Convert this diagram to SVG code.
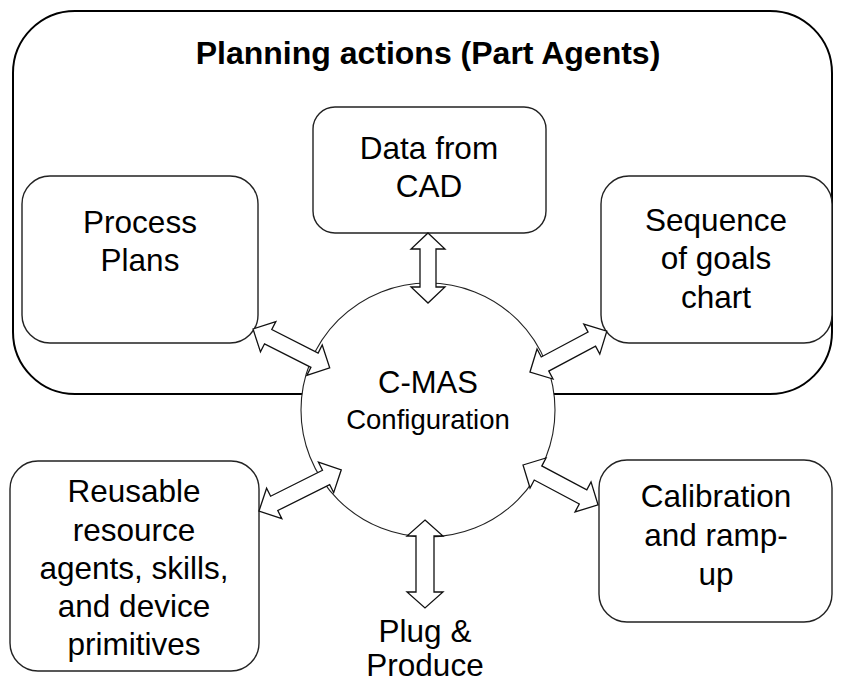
<svg xmlns="http://www.w3.org/2000/svg" width="843" height="682" viewBox="0 0 843 682">
  <style>
    .frame { fill: #fff; stroke: #000; stroke-width: 2; }
    .box { fill: #fff; stroke: #222; stroke-width: 1.4; }
    .hub { fill: #fff; stroke: #222; stroke-width: 1.1; }
    .arrow { fill: #fff; stroke: #111; stroke-width: 1.3; stroke-linejoin: miter; }
    .title { font-family: "Liberation Sans", Arial, sans-serif; font-weight: bold; font-size: 32px; fill: #000; text-anchor: middle; }
    .label { font-family: "Liberation Sans", Arial, sans-serif; font-size: 31.5px; fill: #000; text-anchor: middle; }
  </style>

  <!-- outer planning frame -->
  <g id="planning-frame">
    <rect class="frame" x="13" y="11" width="819" height="383" rx="62" ry="62"/>
    <text class="title" x="428" y="64">Planning actions (Part Agents)</text>
  </g>

  <g id="node-cad">
    <rect class="box" x="313" y="107" width="233" height="126" rx="22" ry="22"/>
    <text class="label" x="429" y="159">Data from</text>
    <text class="label" x="429" y="197">CAD</text>
  </g>

  <g id="node-process-plans">
    <rect class="box" x="22" y="176" width="236" height="167" rx="28" ry="28"/>
    <text class="label" x="140" y="233">Process</text>
    <text class="label" x="140" y="271">Plans</text>
  </g>

  <g id="node-sequence">
    <rect class="box" x="601" y="176" width="231" height="167" rx="28" ry="28"/>
    <text class="label" x="716" y="231">Sequence</text>
    <text class="label" x="716" y="269">of goals</text>
    <text class="label" x="716" y="308">chart</text>
  </g>

  <g id="node-resources">
    <rect class="box" x="10" y="461" width="249" height="210" rx="28" ry="28"/>
    <text class="label" x="134" y="502">Reusable</text>
    <text class="label" x="134" y="541">resource</text>
    <text class="label" x="134" y="579">agents, skills,</text>
    <text class="label" x="134" y="617">and device</text>
    <text class="label" x="134" y="655">primitives</text>
  </g>

  <g id="node-calibration">
    <rect class="box" x="599" y="460" width="233" height="162" rx="28" ry="28"/>
    <text class="label" x="716" y="507">Calibration</text>
    <text class="label" x="716" y="546">and ramp-</text>
    <text class="label" x="716" y="585">up</text>
  </g>

  <g id="node-cmas">
    <circle class="hub" cx="428" cy="410" r="127"/>
    <text class="label" x="428" y="393" style="font-size:31px">C-MAS</text>
    <text class="label" x="428" y="429" style="font-size:27.5px">Configuration</text>
  </g>

  <g id="node-plug-produce">
    <text class="label" x="425" y="642">Plug &amp;</text>
    <text class="label" x="425" y="676">Produce</text>
  </g>

  <!-- double-headed block arrows between the hub and each node -->
  <g id="connectors">
    <polygon class="arrow" transform="translate(428,233) rotate(90)" points="0,0 16,-17 16,-8 54,-8 54,-17 70,0 54,17 54,8 16,8 16,17"/>
    <polygon class="arrow" transform="translate(425,520) rotate(90)" points="0,0 16,-18 16,-9 72,-9 72,-18 88,0 72,18 72,9 16,9 16,18"/>
    <polygon class="arrow" transform="translate(253,329) rotate(26.9)" points="0,0 17,-17 17,-8 69,-8 69,-17 86,0 69,17 69,8 17,8 17,17"/>
    <polygon class="arrow" transform="translate(530,372) rotate(-28)" points="0,0 17,-17 17,-8 70,-8 70,-17 87,0 70,17 70,8 17,8 17,17"/>
    <polygon class="arrow" transform="translate(259,511) rotate(-26.6)" points="0,0 17,-17 17,-8 75,-8 75,-17 92,0 75,17 75,8 17,8 17,17"/>
    <polygon class="arrow" transform="translate(523,465) rotate(28)" points="0,0 17,-17 17,-8 68,-8 68,-17 85,0 68,17 68,8 17,8 17,17"/>
  </g>
</svg>
